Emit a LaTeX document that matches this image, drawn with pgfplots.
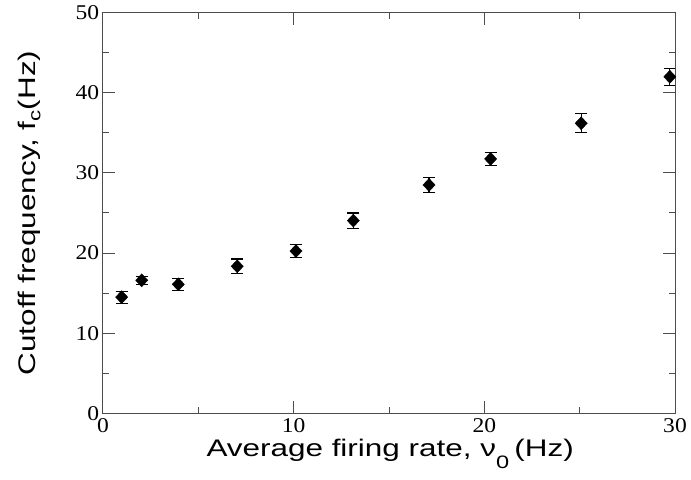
\documentclass[border=0pt]{standalone}
\usepackage{fontspec}
\setmainfont{Liberation Sans}
\newfontfamily\seriffont{Liberation Serif}
\usepackage{pgfplots}
\usepackage{pgfplotstable}
\pgfplotsset{compat=1.18}
\pgfplotstableread{
x y e
0.98 14.5 0.75
2.03 16.6 0.5
3.95 16.1 0.75
7.04 18.35 0.9
10.12 20.25 0.8
13.13 24.05 0.95
17.1 28.5 0.9
20.33 31.75 0.8
25.08 36.2 1.2
29.73 42.0 1.05
}\datatable
\begin{document}
\begin{tikzpicture}
\begin{axis}[
  scale only axis, width=572pt, height=400.6pt,
  xmin=0, xmax=30, ymin=0, ymax=50,
  xtick={0,10,20,30}, ytick={0,10,...,50},
  minor x tick num=1, minor y tick num=1,
  tick align=inside, major tick length=12pt, minor tick length=6pt,
  axis line style={black!70, line width=1pt},
  every tick/.style={black!70, line width=1pt},
  /pgf/number format/assume math mode=true,
  ticklabel style={font=\fontsize{21}{22}\seriffont, xscale=1.12},
  xticklabel style={yshift=-2pt},
  xlabel={\scalebox{1.31}[1]{Average firing rate, ν\raisebox{-12pt}{\fontsize{18}{18}\selectfont 0}\,(Hz)}},
  ylabel={\scalebox{1.31}[1]{Cutoff frequency, f\raisebox{-5pt}{\fontsize{17}{18}\selectfont c}(Hz)}},
  label style={font=\fontsize{24}{28}\selectfont},
  xlabel style={at={(axis description cs:0.502,-0.109)}, anchor=base},
  ylabel style={at={(axis description cs:-0.129,0.50)}, anchor=center},
]
\addplot[only marks, mark=diamond*, mark size=6.5pt, mark options={xscale=1.25, fill=black, draw=black},
  error bars/.cd, y dir=both, y explicit,
  error bar style={line width=1.2pt, black},
  error mark options={rotate=90, mark size=6pt, line width=1.2pt, black}]
  table[x=x, y=y, y error=e] {\datatable};
\coordinate (ll) at (rel axis cs:0,0);
\coordinate (ur) at (rel axis cs:1,1);
\end{axis}
\pgfresetboundingbox
\path ([shift={(-103pt,-66.7pt)}]ll) rectangle ([shift={(16pt,12.7pt)}]ur);
\end{tikzpicture}
\end{document}
